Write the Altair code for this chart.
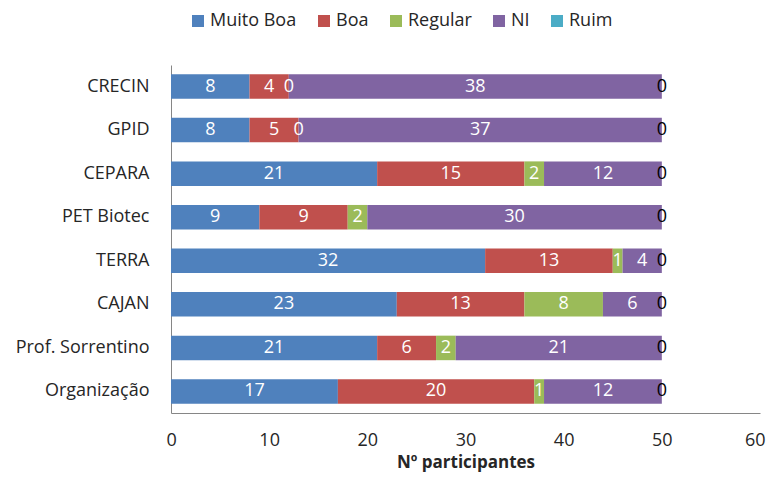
import altair as alt
import pandas as pd

categories = ["CRECIN", "GPID", "CEPARA", "PET Biotec", "TERRA", "CAJAN",
              "Prof. Sorrentino", "Organização"]
series = ["Muito Boa", "Boa", "Regular", "NI", "Ruim"]
muito_boa = [8, 8, 21, 9, 32, 23, 21, 17]
boa = [4, 5, 15, 9, 13, 13, 6, 20]
regular = [0, 0, 2, 2, 1, 8, 2, 1]
ni = [38, 37, 12, 30, 4, 6, 21, 12]
ruim = [0, 0, 0, 0, 0, 0, 0, 0]
colors = ["#4F81BD", "#C0504D", "#9BBB59", "#8064A2", "#4BACC6"]
x_ticks = [0, 10, 20, 30, 40, 50, 60]

rows = []
for si, (name, vals) in enumerate(zip(series, [muito_boa, boa, regular, ni, ruim])):
    for cat, v in zip(categories, vals):
        rows.append({"categoria": cat, "serie": name, "valor": v, "ordem": si})
df = pd.DataFrame(rows)

FONT = "Open Sans"
FS = 18

base = alt.Chart(df).transform_stack(
    stack="valor", groupby=["categoria"], as_=["x0", "x1"],
    sort=[alt.SortField("ordem", order="ascending")]
).transform_calculate(mid="(datum.x0 + datum.x1) / 2")

y_enc = alt.Y("categoria:N", sort=categories,
              scale=alt.Scale(paddingInner=0.437, paddingOuter=0.2125),
              axis=alt.Axis(title=None, ticks=False, domainColor="#868686",
                            labelFontSize=FS, labelFont=FONT, labelColor="#262626",
                            labelPadding=22))

bars = base.mark_bar().encode(
    y=y_enc,
    x=alt.X("x0:Q", scale=alt.Scale(domain=[0, 60], nice=False),
            axis=alt.Axis(values=x_ticks, grid=False, ticks=False, domainColor="#868686",
                          labelFontSize=FS, labelFont=FONT, labelColor="#262626",
                          labelFlush=True, labelFlushOffset=5,
                          labelPadding=18, title="Nº participantes",
                          titleFont=FONT, titleFontSize=17, titleFontWeight="bold",
                          titleColor="#262626", titlePadding=5)),
    x2="x1:Q",
    color=alt.Color("serie:N", scale=alt.Scale(domain=series, range=colors),
                    legend=alt.Legend(title=None, orient="none", direction="horizontal",
                                      columns=5, legendX=18, legendY=-53,
                                      symbolType="square", symbolSize=144,
                                      symbolStrokeWidth=0,
                                      labelFont=FONT, labelFontSize=FS,
                                      labelColor="#262626", labelOffset=3,
                                      columnPadding=18, padding=0)),
)

labels = base.mark_text(font=FONT, fontSize=FS, baseline="middle", align="center").encode(
    y=alt.Y("categoria:N", sort=categories),
    x=alt.X("mid:Q"),
    text=alt.Text("valor:Q"),
    color=alt.condition(alt.datum.serie == "Ruim", alt.value("#000000"), alt.value("#FFFFFF")),
)

chart = alt.layer(bars, labels).properties(
    width=589, height=348,
    padding={"left": 163, "top": 57, "right": 6, "bottom": 60},
    autosize=alt.AutoSizeParams(type="none"),
).configure_view(stroke=None)

chart.save("out.html", embed_options={"renderer": "svg", "actions": False})
